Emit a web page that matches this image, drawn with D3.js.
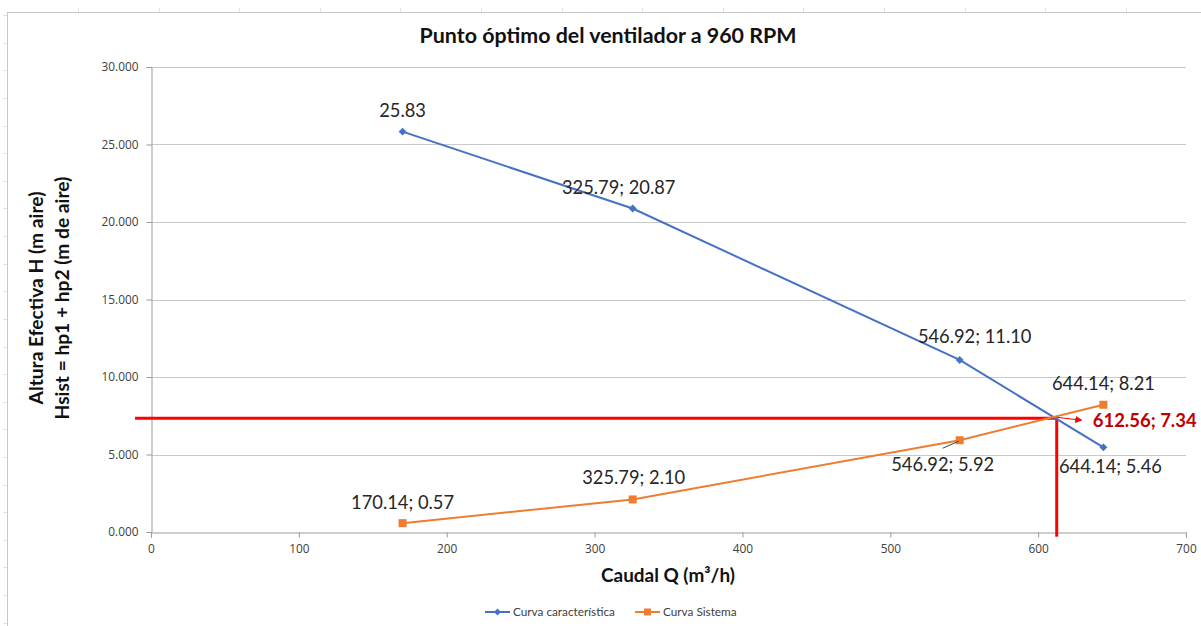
<!DOCTYPE html>
<html>
<head>
<meta charset="utf-8">
<script src="https://cdn.jsdelivr.net/npm/d3@7"></script>
<style>
  html, body { margin: 0; padding: 0; background: #fff; }
  svg { display: block; font-family: Lato, "Liberation Sans", sans-serif; }
</style>
</head>
<body>
<svg id="chart" width="1201" height="626"></svg>
<script>
// Fan operating data (Q in m³/h, H in m of air)
const caudal = [170.14, 325.79, 546.92, 644.14];
const alturaCaracteristica = [25.83, 20.87, 11.10, 5.46];
const alturaSistema = [0.57, 2.10, 5.92, 8.21];
const puntoOptimo = { q: 612.56, h: 7.34 };

const xTicks = [0, 100, 200, 300, 400, 500, 600, 700];
const yTicks = [0, 5, 10, 15, 20, 25, 30];

const titulo = "Punto óptimo del ventilador a 960 RPM";
const tituloX = "Caudal Q (m³/h)";
const tituloY1 = "Altura Efectiva H (m aire)";
const tituloY2 = "Hsist = hp1 + hp2 (m de aire)";
const nombresSeries = ["Curva característica", "Curva Sistema"];

const azul = "#4472C4", naranja = "#ED7D31", rojo = "#FF0000", rojoOscuro = "#C00000";

const svg = d3.select("#chart");
const W = 1201, H = 626;

// scale a text's font so that it spans the given width
function ajustar(sel, ancho) {
  sel.style("font-size", "20px");
  const len = sel.node().getComputedTextLength();
  const fs = 20 * ancho / len;
  sel.style("font-size", fs + "px");
  return fs;
}
function tamano(texto, ancho, peso, familia) {
  const t = svg.append("text").style("font-weight", peso || "normal")
    .style("font-family", familia || null).text(texto);
  const fs = ajustar(t, ancho);
  t.remove();
  return fs;
}

// sheet frame behind the chart
const frame = svg.append("g");
frame.append("rect").attr("x", 7.5).attr("y", 12.5).attr("width", W).attr("height", H)
  .attr("fill", "#fff").attr("stroke", "#c8c8c8");
for (let x = 78; x < W; x += 80.6) {
  frame.append("line").attr("x1", Math.round(x) + 0.5).attr("x2", Math.round(x) + 0.5)
    .attr("y1", 8).attr("y2", 12).attr("stroke", "#e2e2e2");
}
for (let y = 401.7 % 27.6; y < H; y += 27.6) {
  frame.append("line").attr("y1", Math.round(y) + 0.5).attr("y2", Math.round(y) + 0.5)
    .attr("x1", 3).attr("x2", 7).attr("stroke", "#e2e2e2");
}

const x = d3.scaleLinear().domain([0, 700]).range([151, 1186]);
const y = d3.scaleLinear().domain([0, 30]).range([532, 67]);

// horizontal gridlines
svg.append("g").selectAll("line").data(yTicks.filter(d => d > 0)).join("line")
  .attr("x1", x(0)).attr("x2", x(700))
  .attr("y1", d => Math.round(y(d)) + 0.5).attr("y2", d => Math.round(y(d)) + 0.5)
  .attr("stroke", "#c9c9c9").attr("stroke-width", 1);

// axes
const fsTick = tamano("30.000", 37, "normal", "'Open Sans', Lato, sans-serif");
const yAxis = d3.axisLeft(y).tickValues(yTicks).tickFormat(d3.format(".3f")).tickSizeOuter(0).tickSize(5).tickPadding(8);
const xAxis = d3.axisBottom(x).tickValues(xTicks).tickFormat(d3.format("d")).tickSizeOuter(0).tickSize(5).tickPadding(7);

const gy = svg.append("g").attr("transform", `translate(${Math.round(x(0)) + 0.5},0)`).call(yAxis);
const gx = svg.append("g").attr("transform", `translate(0,${Math.round(y(0)) + 0.5})`).call(xAxis);
[gx, gy].forEach(g => {
  g.selectAll("path,line").attr("stroke", "#9a9a9a");
  g.selectAll("text").attr("fill", "#404040").style("font-size", fsTick + "px")
    .style("font-family", "'Open Sans', Lato, sans-serif");
});

// titles
ajustar(svg.append("text").attr("x", 608).attr("y", 43).attr("text-anchor", "middle")
  .style("font-weight", "bold").attr("fill", "#111").text(titulo), 377);
ajustar(svg.append("text").attr("x", 668).attr("y", 582).attr("text-anchor", "middle")
  .style("font-weight", "bold").attr("fill", "#111").text(tituloX), 134);
ajustar(svg.append("text").attr("transform", "translate(43,298) rotate(-90)").attr("text-anchor", "middle")
  .style("font-weight", "bold").attr("fill", "#111").text(tituloY1), 213);
ajustar(svg.append("text").attr("transform", "translate(69,298) rotate(-90)").attr("text-anchor", "middle")
  .style("font-weight", "bold").attr("fill", "#111").text(tituloY2), 243);

// operating-point guide lines
const guias = svg.append("g").attr("stroke", rojo).attr("stroke-width", 3).attr("fill", "none");
guias.append("line").attr("x1", x(-10.8)).attr("x2", x(puntoOptimo.q))
  .attr("y1", y(puntoOptimo.h)).attr("y2", y(puntoOptimo.h));
guias.append("line").attr("x1", x(puntoOptimo.q)).attr("x2", x(puntoOptimo.q))
  .attr("y1", y(puntoOptimo.h)).attr("y2", y(-0.3));

const serieCurva = caudal.map((q, i) => ({ q, h: alturaCaracteristica[i] }));
const serieSistema = caudal.map((q, i) => ({ q, h: alturaSistema[i] }));
const linea = d3.line().x(d => x(d.q)).y(d => y(d.h));

svg.append("path").datum(serieCurva).attr("d", linea).attr("fill", "none")
  .attr("stroke", azul).attr("stroke-width", 2);
svg.append("path").datum(serieSistema).attr("d", linea).attr("fill", "none")
  .attr("stroke", naranja).attr("stroke-width", 2);

svg.append("g").selectAll("path").data(serieCurva).join("path")
  .attr("d", d3.symbol(d3.symbolDiamond2, 40))
  .attr("transform", d => `translate(${x(d.q)},${y(d.h)})`).attr("fill", azul);
svg.append("g").selectAll("rect").data(serieSistema).join("rect")
  .attr("x", d => x(d.q) - 4).attr("y", d => y(d.h) - 4).attr("width", 8).attr("height", 8)
  .attr("fill", naranja);

// data labels (offsets from each point, in px)
const fmt = d3.format(".2f");
const fsEtiqueta = tamano("644.14; 8.21", 103);
const offCurva = [[0, -21], [-14, -21], [15, -23], [7, 19]];
const offSistema = [[0, -21], [1, -22], [-17, 24], [0, -21]];
const etiqueta = (d, i, serie) => (serie === "curva" && i === 0) ? fmt(d.h) : `${fmt(d.q)}; ${fmt(d.h)}`;

function etiquetas(datos, offs, serie) {
  svg.append("g").selectAll("text").data(datos).join("text")
    .attr("x", (d, i) => x(d.q) + offs[i][0])
    .attr("y", (d, i) => y(d.h) + offs[i][1])
    .attr("dy", "0.35em").attr("text-anchor", "middle")
    .style("font-size", fsEtiqueta + "px").attr("fill", "#262626")
    .text((d, i) => etiqueta(d, i, serie));
}
etiquetas(serieCurva, offCurva, "curva");
etiquetas(serieSistema, offSistema, "sistema");

// leader line for the third system label
const p3 = serieSistema[2];
svg.append("line").attr("x1", x(p3.q) - 17).attr("y1", y(p3.h) + 8)
  .attr("x2", x(p3.q) - 1).attr("y2", y(p3.h) + 1)
  .attr("stroke", "#404040").attr("stroke-width", 1);

// operating point callout
svg.append("defs").append("marker").attr("id", "flecha").attr("viewBox", "0 0 10 10")
  .attr("refX", 9).attr("refY", 5).attr("markerWidth", 6).attr("markerHeight", 6)
  .attr("orient", "auto").append("path").attr("d", "M0,0L10,5L0,10z").attr("fill", rojo);
svg.append("line").attr("x1", x(puntoOptimo.q)).attr("y1", y(puntoOptimo.h) - 1)
  .attr("x2", x(puntoOptimo.q) + 25).attr("y2", y(puntoOptimo.h) + 2)
  .attr("stroke", rojo).attr("stroke-width", 1.2).attr("marker-end", "url(#flecha)");
ajustar(svg.append("text").attr("x", x(puntoOptimo.q) + 36).attr("y", y(puntoOptimo.h) + 2)
  .attr("dy", "0.35em").style("font-weight", "bold")
  .attr("fill", rojoOscuro).text(`${fmt(puntoOptimo.q)}; ${fmt(puntoOptimo.h)}`), 104);

// legend
const fsLeyenda = tamano(nombresSeries[0], 102);
const leyenda = svg.append("g").attr("transform", "translate(485,612)");
const items = [{ n: nombresSeries[0], c: azul, t: "diamond", x0: 0 }, { n: nombresSeries[1], c: naranja, t: "square", x0: 150 }];
items.forEach(it => {
  const g = leyenda.append("g").attr("transform", `translate(${it.x0},0)`);
  g.append("line").attr("x1", 0).attr("x2", 25).attr("stroke", it.c).attr("stroke-width", 2);
  if (it.t === "diamond") g.append("path").attr("d", d3.symbol(d3.symbolDiamond2, 30)).attr("transform", "translate(12.5,0)").attr("fill", it.c);
  else g.append("rect").attr("x", 9).attr("y", -3.5).attr("width", 7).attr("height", 7).attr("fill", it.c);
  g.append("text").attr("x", 28).attr("dy", "0.35em").style("font-size", fsLeyenda + "px").attr("fill", "#404040").text(it.n);
});
</script>
</body>
</html>
